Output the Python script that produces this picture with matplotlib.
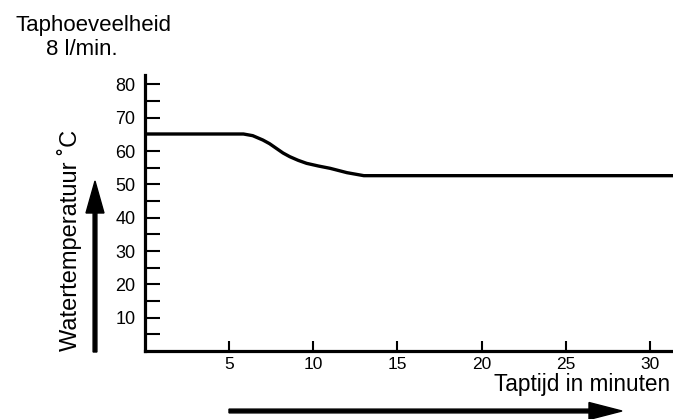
import matplotlib.pyplot as plt
from matplotlib.patches import FancyArrow

plt.rcParams['font.family'] = ['Liberation Sans', 'DejaVu Sans']

# Waterdata
tijd = [0, 4.5, 5.85, 6.4, 7.0, 7.4, 7.8, 8.2, 8.6, 9.1, 9.6, 10.3, 11.0, 12.0, 13.0, 15, 20, 25, 30, 31.4]
temp = [65.1, 65.1, 65.1, 64.6, 63.3, 62.2, 60.8, 59.4, 58.3, 57.2, 56.3, 55.5, 54.8, 53.5, 52.6, 52.6, 52.6, 52.6, 52.6, 52.6]

x_ticks = [5, 10, 15, 20, 25, 30]
y_ticks = [10, 20, 30, 40, 50, 60, 70, 80]
y_minor = [5, 15, 25, 35, 45, 55, 65, 75]

fig = plt.figure(figsize=(6.73, 4.19), dpi=100)
ax = fig.add_axes([145 / 673, 68 / 419, 528 / 673, 276 / 419])

ax.plot(tijd, temp, color='black', linewidth=2.4, solid_capstyle='butt')

ax.set_xlim(0, 31.37)
ax.set_ylim(0, 82.8)
ax.set_xticks(x_ticks)
ax.set_yticks(y_ticks)
ax.set_yticks(y_minor, minor=True)

for s in ['top', 'right']:
    ax.spines[s].set_visible(False)
for s in ['left', 'bottom']:
    ax.spines[s].set_linewidth(2.3)

ax.tick_params(axis='x', direction='in', length=7.5, width=1.5, pad=4, labelsize=12.5)
ax.tick_params(axis='y', which='both', direction='in', length=10.5, width=1.5, pad=7, labelsize=13)

# Teksten (pixelposities omgerekend naar figuurfracties)
fig.text(94 / 673, 1 - 31 / 419, 'Taphoeveelheid', ha='center', va='baseline', fontsize=16)
fig.text(82 / 673, 1 - 55 / 419, '8 l/min.', ha='center', va='baseline', fontsize=16)
fig.text(70 / 673, 1 - 240 / 419, 'Watertemperatuur ˚C', ha='center', va='center',
         rotation=90, fontsize=17)
fig.text(670 / 673, 1 - 391 / 419, 'Taptijd in minuten', ha='right', va='baseline', fontsize=16.3)

# Pijlen in inches
pijl_v = FancyArrow(0.95, 0.67, 0, 1.71, width=0.038, head_width=0.18, head_length=0.32,
                    length_includes_head=True, color='black', transform=fig.dpi_scale_trans)
pijl_h = FancyArrow(2.29, 0.08, 3.93, 0, width=0.038, head_width=0.17, head_length=0.33,
                    length_includes_head=True, color='black', transform=fig.dpi_scale_trans)
fig.add_artist(pijl_v)
fig.add_artist(pijl_h)

fig.savefig('out.png', dpi=100)
